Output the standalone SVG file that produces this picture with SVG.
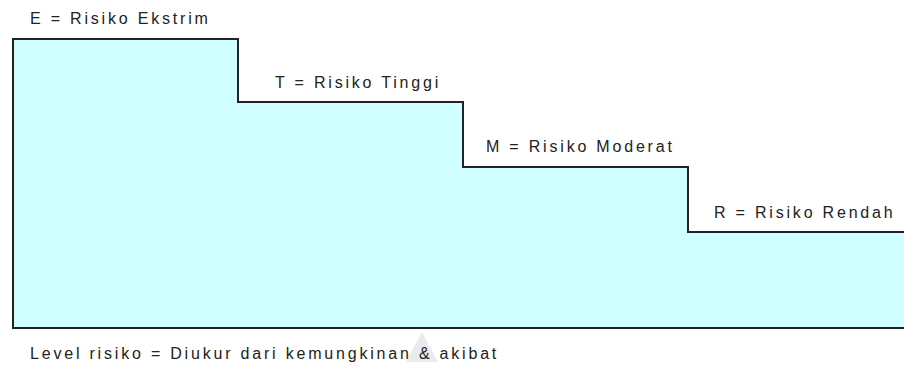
<svg xmlns="http://www.w3.org/2000/svg" width="904" height="366" viewBox="0 0 904 366">
<style>
text{font-family:"Liberation Sans",Arial,sans-serif;font-size:16px;fill:#222;letter-spacing:2.8px}
.step{fill:#d0ffff;stroke:none}
.edge{fill:none;stroke:#222;stroke-width:2;stroke-linejoin:miter}
</style>
<rect width="904" height="366" fill="#fff"/>
<g id="staircase">
<path class="step" d="M13,39 H238 V102 H463 V167 H688 V232 H904 V328 H13 Z"/>
<path class="edge" d="M904,232 H688 V167 H463 V102 H238 V39 H13 V328 H904"/>
</g>
<g id="watermark">
<polygon points="422,332 406,362 438,362" fill="#ebebeb"/>
</g>
<g id="label-E"><text x="30" y="24">E = Risiko Ekstrim</text></g>
<g id="label-T"><text x="275" y="88">T = Risiko Tinggi</text></g>
<g id="label-M"><text x="486" y="152">M = Risiko Moderat</text></g>
<g id="label-R"><text x="714" y="218">R = Risiko Rendah</text></g>
<g id="caption"><text x="30" y="359">Level risiko = Diukur dari kemungkinan &amp; akibat</text></g>
<g id="connectors"></g>
</svg>
